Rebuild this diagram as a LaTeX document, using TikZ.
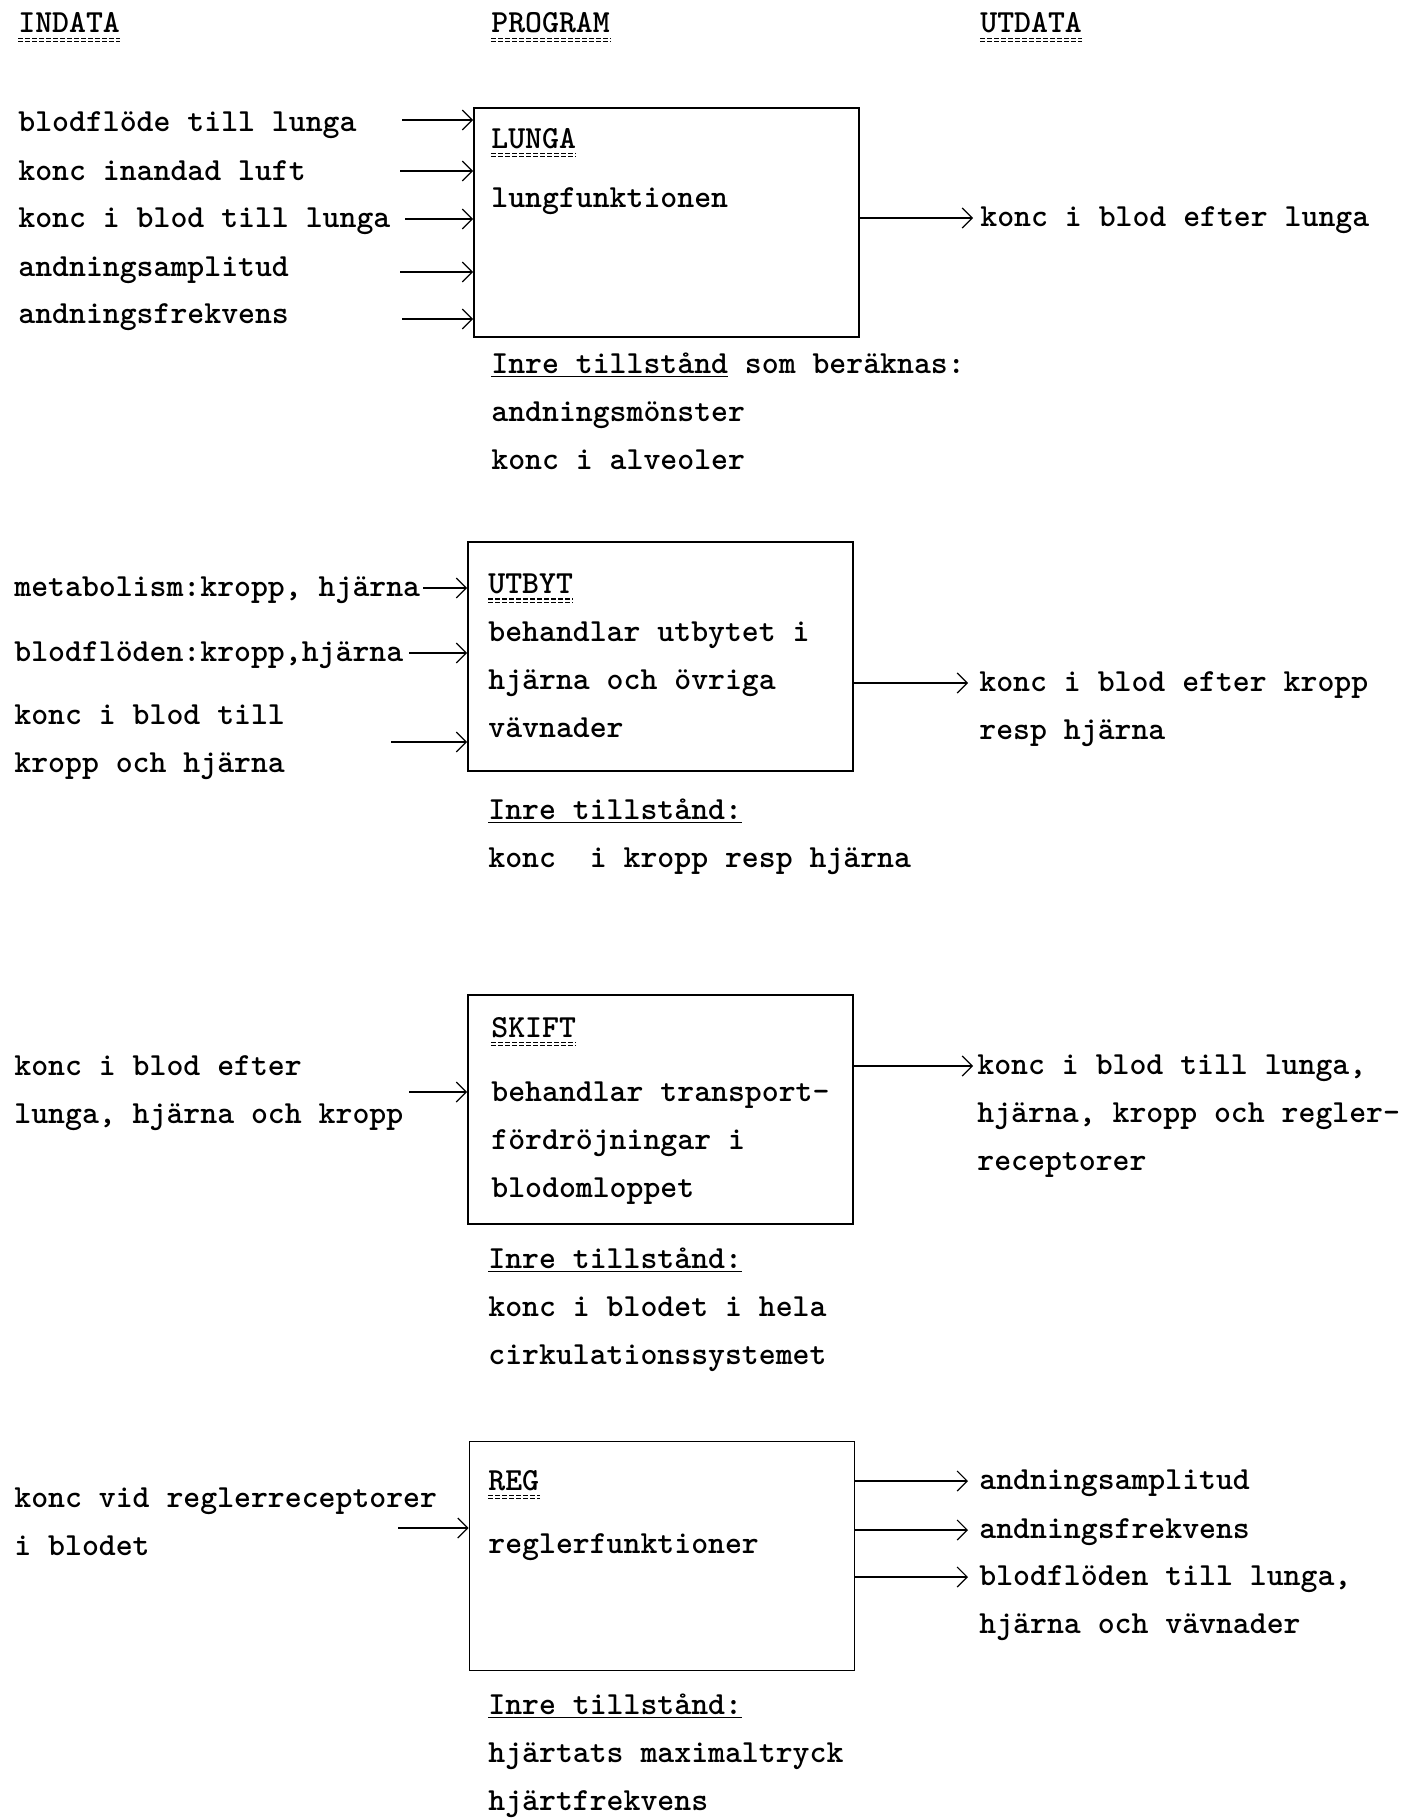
\documentclass[tikz,border=0pt]{standalone}
\usepackage{tikz}
\usetikzlibrary{arrows.meta}

\begin{document}
\begin{tikzpicture}[
  x=0.5pt, y=-0.5pt,
  txt/.style   = {
    anchor=north west, inner sep=0pt, align=left, yshift=1.2pt,
    font=\fontsize{16.1}{24}\selectfont\ttfamily\bfseries
  },
  modul/.style = {
    rectangle, draw, line width=0.9pt, inner sep=0pt,
    minimum width=192.5pt, minimum height=114.5pt
  },
  arr/.style   = {-{Straight Barb[length=5pt,width=10pt]}, line width=0.6pt},
  dblul/.style = {double, double distance=1.1pt, line width=0.55pt,
    dash pattern=on 2.6pt off 0.9pt}
]
\useasboundingbox (0,0) rectangle (1407,1818);

% Rubriker
\node[txt] (indata)  at (18,14)  {INDATA};
\node[txt] (program) at (491,14) {PROGRAM};
\node[txt] (utdata)  at (980,14) {UTDATA};
\draw[dblul] ([yshift=-4pt]indata.base west)  -- ([yshift=-4pt]indata.base east);
\draw[dblul] ([yshift=-4pt]program.base west) -- ([yshift=-4pt]program.base east);
\draw[dblul] ([yshift=-4pt]utdata.base west)  -- ([yshift=-4pt]utdata.base east);

% LUNGA
\node[modul] (lunga) at (666.5,222.5) {};
\node[txt] (lungat) at (491,130) {LUNGA};
\draw[dblul] ([yshift=-3.5pt]lungat.base west) -- ([yshift=-3.5pt]lungat.base east);
\node[txt] (lungab) at (491,190) {lungfunktionen};
\node[txt] (lin1) at (18,114)   {blodflöde till lunga};
\node[txt] (lin2) at (18,162.5) {konc inandad luft};
\node[txt] (lin3) at (18,210)   {konc i blod till lunga};
\node[txt] (lin4) at (18,259)   {andningsamplitud};
\node[txt] (lin5) at (18,306)   {andningsfrekvens};
\coordinate (la1) at (402,120);
\coordinate (la2) at (400,171);
\coordinate (la3) at (405,219);
\coordinate (la4) at (400,272);
\coordinate (la5) at (402,319);
\draw[arr] (la1) -- (la1 -| lunga.west);
\draw[arr] (la2) -- (la2 -| lunga.west);
\draw[arr] (la3) -- (la3 -| lunga.west);
\draw[arr] (la4) -- (la4 -| lunga.west);
\draw[arr] (la5) -- (la5 -| lunga.west);
\coordinate (lu1) at (973,218);
\node[txt] (lut1) at (980,209) {konc i blod efter lunga};
\draw[arr] (lunga.east |- lu1) -- (lu1);
\node[txt] (lungai) at (491,355)
  {\underline{Inre tillstånd} som beräknas:\\andningsmönster\\konc i alveoler};

% UTBYT
\node[modul] (utbyt) at (660.5,656.5) {};
\node[txt] (utbytt) at (488,576) {UTBYT};
\draw[dblul] ([yshift=-3.5pt]utbytt.base west) -- ([yshift=-3.5pt]utbytt.base east);
\node[txt] (utbytb) at (488,624) {behandlar utbytet i\\hjärna och övriga\\vävnader};
\node[txt] (uin1) at (14,579) {metabolism:kropp, hjärna};
\node[txt] (uin2) at (14,644) {blodflöden:kropp,hjärna};
\node[txt] (uin3) at (14,707) {konc i blod till\\kropp och hjärna};
\coordinate (ua1) at (423,588);
\coordinate (ua2) at (409,653);
\coordinate (ua3) at (391,742);
\draw[arr] (ua1) -- (ua1 -| utbyt.west);
\draw[arr] (ua2) -- (ua2 -| utbyt.west);
\draw[arr] (ua3) -- (ua3 -| utbyt.west);
\coordinate (uu1) at (968,683);
\node[txt] (uut1) at (979,674) {konc i blod efter kropp\\resp hjärna};
\draw[arr] (utbyt.east |- uu1) -- (uu1);
\node[txt] (utbyti) at (488,801)
  {\underline{Inre tillstånd:}\\konc~~i kropp resp hjärna};

% SKIFT
\node[modul] (skift) at (660.5,1109.5) {};
\node[txt] (skiftt) at (491,1019) {SKIFT};
\draw[dblul] ([yshift=-3.5pt]skiftt.base west) -- ([yshift=-3.5pt]skiftt.base east);
\node[txt] (skiftb) at (491,1084) {behandlar transport-\\fördröjningar i\\blodomloppet};
\node[txt] (sin1) at (14,1058) {konc i blod efter\\lunga, hjärna och kropp};
\coordinate (sa1) at (409,1092);
\draw[arr] (sa1) -- (sa1 -| skift.west);
\coordinate (su1) at (973,1066);
\node[txt] (sut1) at (977,1057) {konc i blod till lunga,\\hjärna, kropp och regler-\\receptorer};
\draw[arr] (skift.east |- su1) -- (su1);
\node[txt] (skifti) at (488,1250)
  {\underline{Inre tillstånd:}\\konc i blodet i hela\\cirkulationssystemet};

% REG
\node[modul] (reg) at (662,1556) {};
\node[txt] (regt) at (488,1472) {REG};
\draw[dblul] ([yshift=-3.5pt]regt.base west) -- ([yshift=-3.5pt]regt.base east);
\node[txt] (regb) at (488,1536) {reglerfunktioner};
\node[txt] (rin1) at (14,1490) {konc vid reglerreceptorer\\i blodet};
\coordinate (ra1) at (398,1528);
\draw[arr] (ra1) -- (ra1 -| reg.west);
\coordinate (ru1) at (968,1481);
\coordinate (ru2) at (968,1530);
\coordinate (ru3) at (968,1577);
\node[txt] (rut1) at (979,1472) {andningsamplitud};
\node[txt] (rut2) at (979,1521) {andningsfrekvens};
\node[txt] (rut3) at (979,1568) {blodflöden till lunga,\\hjärna och vävnader};
\draw[arr] (reg.east |- ru1) -- (ru1);
\draw[arr] (reg.east |- ru2) -- (ru2);
\draw[arr] (reg.east |- ru3) -- (ru3);
\node[txt] (regi) at (488,1696)
  {\underline{Inre tillstånd:}\\hjärtats maximaltryck\\hjärtfrekvens};

\end{tikzpicture}
\end{document}
